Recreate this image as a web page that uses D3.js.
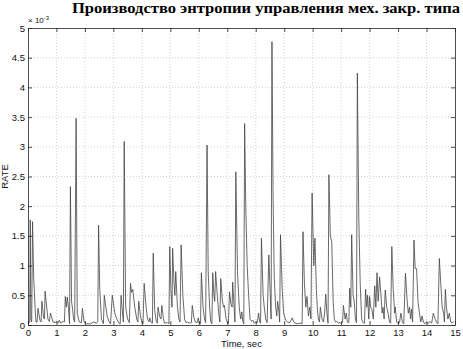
<!DOCTYPE html>
<html>
<head>
<meta charset="utf-8">
<script src="https://cdn.jsdelivr.net/npm/d3@7"></script>
<style>
  body { margin: 0; background: #fff; }
  svg { display: block; font-family: 'Liberation Sans', Arial, sans-serif; }
</style>
</head>
<body>
<svg width="463" height="349"></svg>
<script>
// time, sec
let time = [
  0.00, 0.06, 0.08, 0.10, 0.13, 0.16, 0.20, 0.25, 0.28, 0.32, 0.35, 0.42, 0.46, 0.49, 0.55, 0.58, 0.60, 0.70, 0.75, 0.79,
  0.88, 0.95, 1.00, 1.05, 1.10, 1.15, 1.22, 1.28, 1.31, 1.35, 1.38, 1.42, 1.46, 1.49, 1.53, 1.57, 1.60, 1.64, 1.69, 1.73,
  1.80, 1.88, 1.91, 1.97, 2.05, 2.20, 2.30, 2.40, 2.45, 2.48, 2.52, 2.58, 2.62, 2.65, 2.68, 2.78, 2.85, 2.90, 2.96, 3.05,
  3.12, 3.20, 3.24, 3.27, 3.32, 3.35, 3.38, 3.43, 3.50, 3.56, 3.60, 3.64, 3.68, 3.75, 3.82, 3.86, 3.89, 3.95, 4.00, 4.04,
  4.08, 4.15, 4.20, 4.25, 4.28, 4.33, 4.37, 4.40, 4.45, 4.50, 4.54, 4.57, 4.62, 4.67, 4.70, 4.76, 4.80, 4.90, 4.95, 4.98,
  5.02, 5.06, 5.08, 5.13, 5.16, 5.19, 5.25, 5.30, 5.34, 5.38, 5.44, 5.50, 5.55, 5.60, 5.65, 5.70, 5.74, 5.77, 5.83, 5.88,
  5.94, 5.98, 6.02, 6.06, 6.09, 6.15, 6.20, 6.24, 6.29, 6.33, 6.38, 6.42, 6.46, 6.49, 6.53, 6.56, 6.59, 6.65, 6.70, 6.74,
  6.77, 6.83, 6.87, 6.90, 6.96, 7.00, 7.04, 7.08, 7.13, 7.17, 7.19, 7.24, 7.27, 7.30, 7.36, 7.42, 7.47, 7.51, 7.55, 7.58,
  7.61, 7.65, 7.70, 7.75, 7.80, 7.86, 7.90, 7.95, 8.00, 8.05, 8.10, 8.14, 8.17, 8.20, 8.26, 8.30, 8.35, 8.40, 8.46, 8.51,
  8.54, 8.57, 8.61, 8.65, 8.70, 8.74, 8.77, 8.82, 8.84, 8.87, 8.93, 8.98, 9.05, 9.12, 9.20, 9.28, 9.35, 9.45, 9.55, 9.63,
  9.66, 9.71, 9.76, 9.80, 9.85, 9.90, 9.94, 9.98, 10.04, 10.08, 10.13, 10.16, 10.20, 10.24, 10.27, 10.33, 10.38, 10.42, 10.46, 10.50,
  10.54, 10.57, 10.62, 10.67, 10.72, 10.76, 10.80, 10.85, 10.90, 10.96, 11.00, 11.05, 11.08, 11.14, 11.18, 11.22, 11.27, 11.30, 11.34, 11.37,
  11.42, 11.46, 11.50, 11.54, 11.57, 11.62, 11.67, 11.72, 11.77, 11.82, 11.86, 11.90, 11.93, 11.97, 12.00, 12.04, 12.08, 12.13, 12.18, 12.22,
  12.26, 12.30, 12.35, 12.40, 12.44, 12.47, 12.51, 12.55, 12.60, 12.65, 12.70, 12.74, 12.78, 12.83, 12.88, 12.90, 12.95, 13.00, 13.05, 13.10,
  13.15, 13.20, 13.26, 13.32, 13.36, 13.40, 13.44, 13.47, 13.51, 13.56, 13.60, 13.65, 13.70, 13.75, 13.80, 13.84, 13.90, 13.95, 14.00, 14.05,
  14.12, 14.18, 14.24, 14.30, 14.35, 14.40, 14.45, 14.50, 14.55, 14.60, 14.63, 14.66, 14.70, 14.75, 14.80, 14.85, 14.90, 14.95
];

// RATE, x 10^-3
let rate = [
  0.02, 0.05, 1.77, 0.10, 0.05, 1.74, 0.80, 0.28, 0.05, 0.05, 0.28, 0.08, 0.05, 0.40, 0.12, 0.10, 0.57, 0.10, 0.06, 0.20,
  0.05, 0.04, 0.06, 0.03, 0.08, 0.03, 0.06, 0.05, 0.48, 0.30, 0.47, 0.30, 0.02, 2.33, 0.40, 0.25, 0.10, 0.05, 3.48, 0.20,
  0.05, 0.04, 0.28, 0.05, 0.02, 0.02, 0.05, 0.03, 0.06, 1.68, 0.60, 0.10, 0.05, 0.02, 0.50, 0.15, 0.05, 0.02, 0.50, 0.20,
  0.10, 0.03, 0.02, 0.50, 0.20, 0.05, 3.09, 0.30, 0.10, 0.04, 0.70, 0.55, 0.60, 0.30, 0.10, 0.05, 0.40, 0.15, 0.05, 0.02,
  0.70, 0.30, 0.10, 0.05, 0.12, 0.04, 0.03, 1.21, 0.25, 0.08, 0.03, 0.30, 0.15, 0.10, 0.33, 0.10, 0.03, 0.04, 0.02, 1.32,
  0.60, 0.30, 1.29, 0.70, 0.50, 0.90, 0.30, 0.10, 0.05, 1.35, 0.50, 0.10, 0.04, 0.05, 0.04, 0.03, 0.04, 0.33, 0.12, 0.05,
  0.04, 0.12, 0.03, 0.02, 0.88, 0.30, 0.10, 0.04, 3.03, 0.90, 0.30, 0.05, 0.02, 0.88, 0.50, 0.40, 0.90, 0.50, 0.20, 0.05,
  0.78, 0.40, 0.30, 0.33, 0.10, 0.05, 0.02, 0.56, 0.35, 0.30, 0.72, 0.30, 0.05, 2.58, 0.90, 0.30, 0.10, 0.22, 0.05, 0.02,
  3.39, 1.98, 1.00, 0.50, 0.10, 0.06, 0.08, 0.03, 0.05, 0.04, 0.20, 0.05, 0.03, 1.46, 0.50, 0.30, 0.10, 0.04, 1.18, 0.50,
  0.10, 4.77, 2.10, 0.80, 0.30, 0.15, 0.40, 0.20, 0.05, 1.52, 0.60, 0.20, 0.08, 0.05, 0.04, 0.12, 0.04, 0.02, 0.03, 0.02,
  1.57, 0.70, 0.30, 0.48, 0.15, 0.30, 0.10, 2.22, 1.00, 1.46, 0.60, 0.30, 0.10, 0.05, 0.30, 0.10, 0.05, 0.20, 0.52, 0.20,
  0.03, 2.53, 1.50, 1.40, 0.40, 0.10, 0.05, 0.06, 0.03, 0.04, 0.02, 0.05, 0.33, 0.10, 0.20, 0.05, 0.04, 0.62, 0.30, 1.52,
  0.50, 0.40, 0.10, 0.04, 4.24, 1.80, 0.70, 0.10, 0.04, 0.03, 0.60, 0.30, 0.50, 0.10, 0.48, 0.30, 0.26, 0.10, 0.66, 0.30,
  0.88, 0.40, 0.81, 0.50, 0.20, 0.30, 0.10, 0.59, 0.30, 0.20, 0.05, 0.03, 1.32, 0.60, 0.20, 0.30, 0.05, 0.02, 0.04, 0.20,
  0.05, 0.02, 0.87, 0.40, 0.20, 0.30, 0.10, 0.27, 0.05, 1.43, 0.95, 0.95, 0.40, 0.20, 0.05, 0.15, 0.04, 0.02, 0.05, 0.02,
  0.06, 0.03, 0.20, 0.10, 0.05, 0.02, 1.12, 0.70, 0.30, 0.20, 0.05, 0.60, 0.30, 0.10, 0.20, 0.05, 0.03, 0.06
];

let xTicks = d3.range(0, 16, 1);
let yTicks = [0, 0.5, 1, 1.5, 2, 2.5, 3, 3.5, 4, 4.5, 5];
let yTickLabels = ['0', '0.5', '1', '1.5', '2', '2.5', '3', '3.5', '4', '4.5', '5'];

let title = 'Производство энтропии управления мех. закр. типа';

let svg = d3.select('svg');
let plotLeft = 28, plotRight = 455, plotTop = 28, plotBottom = 325;

let x = d3.scaleLinear().domain([0, 15]).range([plotLeft, plotRight]);
let y = d3.scaleLinear().domain([0, 5]).range([plotBottom, plotTop]);

// grid
let grid = svg.append('g')
  .attr('stroke', '#b4b4b4')
  .attr('stroke-width', 0.6)
  .attr('stroke-dasharray', '1 2');

grid.selectAll('line.gx')
  .data(xTicks.slice(1, -1))
  .enter().append('line')
  .attr('x1', function(d) { return x(d); })
  .attr('x2', function(d) { return x(d); })
  .attr('y1', plotTop)
  .attr('y2', plotBottom);

grid.selectAll('line.gy')
  .data(yTicks.slice(1, -1))
  .enter().append('line')
  .attr('y1', function(d) { return y(d); })
  .attr('y2', function(d) { return y(d); })
  .attr('x1', plotLeft)
  .attr('x2', plotRight);

// signal
let line = d3.line()
  .x(function(d, i) { return x(time[i]); })
  .y(function(d) { return y(d); });

svg.append('path')
  .datum(rate)
  .attr('fill', 'none')
  .attr('stroke', '#444')
  .attr('stroke-width', 0.8)
  .attr('d', line);

// axes (matlab style: inward ticks on all sides)
let xAxisB = d3.axisBottom(x).tickValues(xTicks).tickSizeInner(-4).tickSizeOuter(0).tickPadding(4);
let xAxisT = d3.axisTop(x).tickValues(xTicks).tickSizeInner(-4).tickSizeOuter(0).tickFormat('');
let yAxisL = d3.axisLeft(y).tickValues(yTicks).tickSizeInner(-4).tickSizeOuter(0).tickPadding(3)
  .tickFormat(function(d, i) { return yTickLabels[i]; });
let yAxisR = d3.axisRight(y).tickValues(yTicks).tickSizeInner(-4).tickSizeOuter(0).tickFormat('');

function style(g) {
  g.attr('font-family', null).attr('font-size', null);
  g.select('.domain').attr('stroke', '#222').attr('stroke-width', 0.8);
  g.selectAll('.tick line').attr('stroke', '#222').attr('stroke-width', 0.8);
  g.selectAll('.tick text').attr('font-size', 9.5).attr('fill', '#111');
}

svg.append('g').attr('transform', 'translate(0,' + plotBottom + ')').call(xAxisB).call(style);
svg.append('g').attr('transform', 'translate(0,' + plotTop + ')').call(xAxisT).call(style);
svg.append('g').attr('transform', 'translate(' + plotLeft + ',0)').call(yAxisL).call(style);
svg.append('g').attr('transform', 'translate(' + plotRight + ',0)').call(yAxisR).call(style);

// labels
svg.append('text')
  .attr('x', (plotLeft + plotRight) / 2)
  .attr('y', 347)
  .attr('text-anchor', 'middle')
  .attr('font-size', 9.5)
  .attr('fill', '#111')
  .text('Time, sec');

svg.append('text')
  .attr('transform', 'translate(8,' + ((plotTop + plotBottom) / 2) + ')rotate(-90)')
  .attr('text-anchor', 'middle')
  .attr('font-size', 9.5)
  .attr('fill', '#111')
  .text('RATE');

let mult = svg.append('text')
  .attr('x', plotLeft)
  .attr('y', 23)
  .attr('font-size', 8)
  .attr('fill', '#111');
mult.append('tspan').text('× 10');
mult.append('tspan').attr('dy', -3).attr('font-size', 6).text('-3');

svg.append('text')
  .attr('x', 72)
  .attr('y', 13)
  .style('font-family', "'Liberation Serif', 'Times New Roman', serif")
  .attr('font-weight', 'bold')
  .attr('font-size', 14.5)
  .attr('textLength', 388)
  .attr('lengthAdjust', 'spacingAndGlyphs')
  .attr('fill', '#000')
  .text(title);
</script>
</body>
</html>
